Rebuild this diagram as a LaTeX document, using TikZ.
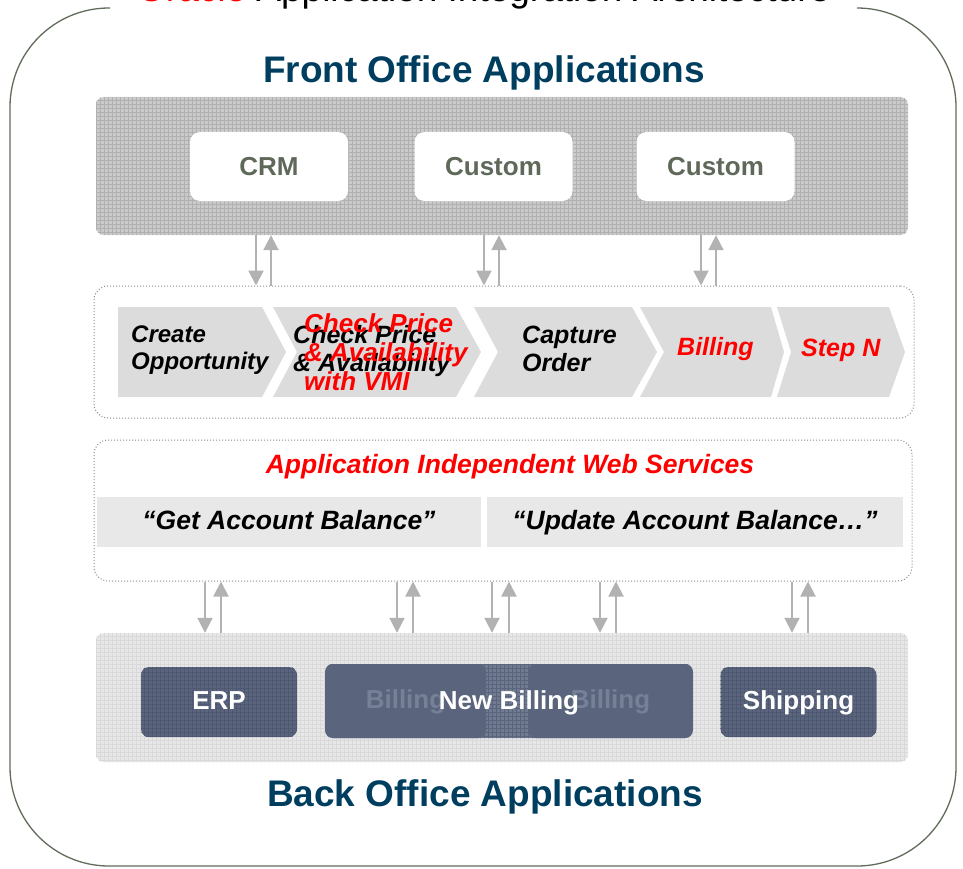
\documentclass[tikz,border=0pt]{standalone}
\usepackage{fontspec}
\setmainfont{Liberation Sans}
\usetikzlibrary{arrows.meta}
\definecolor{titleblue}{RGB}{0,62,95}
\definecolor{appgreen}{RGB}{95,105,90}
\definecolor{framegreen}{RGB}{95,108,90}
\definecolor{arrowgray}{RGB}{178,178,178}
\definecolor{fpfill}{RGB}{202,202,202}
\definecolor{fpgrid}{RGB}{176,176,176}
\definecolor{bpfill}{RGB}{231,231,231}
\definecolor{bpgrid}{RGB}{217,217,217}
\definecolor{chevfill}{RGB}{220,220,220}
\definecolor{wsfill}{RGB}{232,232,232}
\definecolor{slate}{RGB}{90,101,125}
\definecolor{slategrid}{RGB}{78,88,112}
\definecolor{slatelight}{RGB}{112,122,145}
\definecolor{ghost}{RGB}{118,128,150}
\definecolor{dotgray}{RGB}{140,140,140}
\definecolor{pured}{RGB}{255,0,0}
\newcommand{\gridfill}[3]{%
  \begin{scope}
    \clip[rounded corners=#3] (#1.south west) rectangle (#1.north east);
    \draw[#2, line width=0.5pt, step=4pt] (#1.south west) grid (#1.north east);
  \end{scope}}
\tikzset{
  panel/.style={rectangle, rounded corners=8pt, inner sep=0pt},
  appbox/.style={rectangle, rounded corners=10pt, fill=white, minimum width=158pt,
    minimum height=69pt, inner sep=0pt, text=appgreen, font=\bfseries\fontsize{26}{30}\selectfont},
  dotbox/.style={rectangle, rounded corners=14pt, draw=dotgray, line width=1pt,
    dash pattern=on 1pt off 2pt, inner sep=0pt},
  darkbox/.style={rectangle, rounded corners=8pt, fill=slate, inner sep=0pt,
    text=white, font=\bfseries\fontsize{26}{30}\selectfont},
  chev/.style={fill=chevfill},
  steptext/.style={anchor=west, align=left, inner sep=0pt, font=\bfseries\itshape\fontsize{25}{28}\selectfont},
  wsbox/.style={rectangle, fill=wsfill, minimum height=50pt, inner sep=0pt,
    text height=19pt, text depth=5pt,
    font=\bfseries\itshape\fontsize{26.5}{30}\selectfont},
  whitetext/.style={text=white, inner sep=0pt, text height=19pt, text depth=5pt,
    font=\bfseries\fontsize{26}{30}\selectfont},
  bigtitle/.style={anchor=base, inner sep=0pt, text=titleblue, font=\bfseries\fontsize{37}{40}\selectfont},
  arr/.style={draw=arrowgray, line width=2pt, -{Triangle[width=15pt,length=15pt]}}
}
\begin{document}
\begin{tikzpicture}[x=1pt,y=-1pt]
\useasboundingbox (0,0) rectangle (963,869);
% outer frame
\draw[framegreen, line width=1.3pt, rounded corners=99pt]
  (110,8) -- (10,8) -- (10,866) -- (956,866) -- (956,8) -- (858,8);
% top (cut) title
\node[anchor=base west, inner sep=0pt, font=\fontsize{37}{40}\selectfont] (toptitle) at (137,1.5)
  {\textcolor{pured}{Oracle} Application Integration Architecture};
% front office
\node[bigtitle] (fotitle) at (484,83) {Front Office Applications};
\node[panel, fill=fpfill, minimum width=812pt, minimum height=138pt] (fp) at (502,166) {};
\gridfill{fp}{fpgrid}{8pt}
\node[appbox] (crm) at (269,166.5) {CRM};
\node[appbox] (cust1) at (493.5,166.5) {Custom};
\node[appbox] (cust2) at (715.5,166.5) {Custom};
% process box
\node[dotbox, minimum width=820pt, minimum height=132pt] (proc) at (504,352) {};
\fill[chev] (118,307) -- (262,307) -- (286,352) -- (262,397) -- (118,397) -- cycle;
\fill[chev] (273,307) -- (456,307) -- (481,352) -- (456,397) -- (273,397) -- (297,352) -- cycle;
\fill[chev] (474,307) -- (632,307) -- (657,352) -- (632,397) -- (474,397) -- (498,352) -- cycle;
\fill[chev] (640,307) -- (771,307) -- (784,352) -- (771,397) -- (640,397) -- (664,352) -- cycle;
\fill[chev] (777,307) -- (889,307) -- (905,352) -- (889,397) -- (777,397) -- (791,352) -- cycle;
\node[steptext, font=\bfseries\itshape\fontsize{24}{27}\selectfont] (s1) at (131,350) {Create\\Opportunity};
\node[steptext] (s2) at (293,351) {Check Price\\\& Availability};
\node[steptext, text=pured, font=\bfseries\itshape\fontsize{26}{29}\selectfont] (s2r) at (304,352) {Check Price\\\& Availability\\with VMI};
\node[steptext] (s3) at (522,349) {Capture\\Order};
\node[steptext, text=pured] (s4) at (677,349) {Billing};
\node[steptext, text=pured] (s5) at (801,350) {Step N};
% arrows front <-> process
\draw[arr] (256,0 |- fp.south) -- (256,0 |- proc.north);
\draw[arr] (271,0 |- proc.north) -- (271,0 |- fp.south);
\draw[arr] (484,0 |- fp.south) -- (484,0 |- proc.north);
\draw[arr] (499,0 |- proc.north) -- (499,0 |- fp.south);
\draw[arr] (701,0 |- fp.south) -- (701,0 |- proc.north);
\draw[arr] (716,0 |- proc.north) -- (716,0 |- fp.south);
% web services box
\node[dotbox, minimum width=818pt, minimum height=141pt] (ws) at (503,510.5) {};
\node[inner sep=0pt, text=pured, font=\bfseries\itshape\fontsize{26.5}{30}\selectfont] (wstitle) at (510,467) {Application Independent Web Services};
\node[wsbox, minimum width=384pt] (getbal) at (289,522) {“Get Account Balance”};
\node[wsbox, minimum width=416pt] (updbal) at (695,522) {“Update Account Balance…”};
% back office
\node[panel, fill=bpfill, minimum width=812pt, minimum height=129pt] (bp) at (502,697.5) {};
\gridfill{bp}{bpgrid}{8pt}
% arrows web services <-> back office
\draw[arr] (205,0 |- ws.south) -- (205,0 |- bp.north);
\draw[arr] (221,0 |- bp.north) -- (221,0 |- ws.south);
\draw[arr] (397,0 |- ws.south) -- (397,0 |- bp.north);
\draw[arr] (413,0 |- bp.north) -- (413,0 |- ws.south);
\draw[arr] (492,0 |- ws.south) -- (492,0 |- bp.north);
\draw[arr] (509,0 |- bp.north) -- (509,0 |- ws.south);
\draw[arr] (600,0 |- ws.south) -- (600,0 |- bp.north);
\draw[arr] (616,0 |- bp.north) -- (616,0 |- ws.south);
\draw[arr] (792,0 |- ws.south) -- (792,0 |- bp.north);
\draw[arr] (808,0 |- bp.north) -- (808,0 |- ws.south);
% dark application boxes
\node[darkbox, minimum width=156pt, minimum height=70pt] (erp) at (219,702) {};
\gridfill{erp}{slategrid}{8pt}
\node[whitetext] (erpt) at (erp.center) {ERP};
\node[darkbox, fill=slatelight, minimum width=367pt, minimum height=74pt] (nb) at (509,701) {};
\gridfill{nb}{slate}{8pt}
\node[darkbox, minimum width=161pt, minimum height=74pt, text=ghost, text height=19pt, text depth=5pt] (billl) at (405.5,701) {Billing};
\node[darkbox, minimum width=165pt, minimum height=74pt, text=ghost, text height=19pt, text depth=5pt] (billr) at (610.5,701) {Billing};
\node[whitetext] (newbill) at (509,702) {New Billing};
\node[darkbox, minimum width=156pt, minimum height=70pt] (ship) at (798.5,702) {};
\gridfill{ship}{slategrid}{8pt}
\node[whitetext] (shipt) at (ship.center) {Shipping};
% back office title
\node[bigtitle] (botitle) at (485,806) {Back Office Applications};
\end{tikzpicture}
\end{document}
